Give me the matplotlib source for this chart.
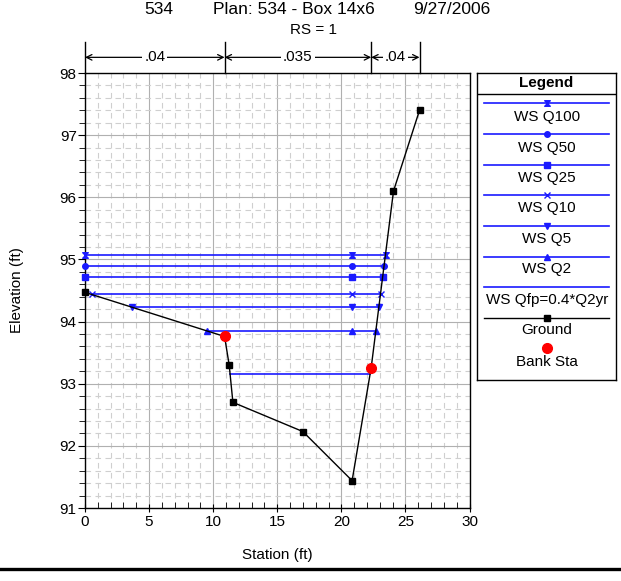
import numpy as np
import matplotlib
matplotlib.use("Agg")
import matplotlib.pyplot as plt
from matplotlib.path import Path
import matplotlib.transforms as mtrans

plt.rcParams['font.family'] = ['Liberation Sans', 'DejaVu Sans']

# ground profile
ground_sta = [0, 10.89, 11.25, 11.54, 17.0, 20.84, 22.33, 24.07, 26.1]
ground_elev = [94.47, 93.76, 93.30, 92.70, 92.23, 91.44, 93.26, 96.10, 97.40]

# bank stations
bank_sta = [10.89, 22.33]
bank_elev = [93.76, 93.26]

# manning n bands
n_breaks = [0, 10.89, 22.33, 26.1]
n_values = [".04", ".035", ".04"]

# water surfaces (left edge, right edge, elevation)
ws_names = ["WS Q100", "WS Q50", "WS Q25", "WS Q10", "WS Q5", "WS Q2", "WS Qfp=0.4*Q2yr"]
ws_elev = [95.07, 94.90, 94.72, 94.44, 94.23, 93.85, 93.16]
ws_left = [0, 0, 0, 0.52, 3.70, 9.50, 11.33]
ws_right = [23.45, 23.34, 23.24, 23.06, 22.93, 22.72, 22.25]
ws_mid = 20.84

hourglass = Path([(-1, 1), (1, 1), (-1, -1), (1, -1), (-1, 1)],
                 [Path.MOVETO, Path.LINETO, Path.LINETO, Path.LINETO, Path.CLOSEPOLY])
ws_markers = [hourglass, "o", "s", "x", "v", "^", None]
ws_msize = [4, 4, 4.5, 4, 4, 4, 0]
blue = "#1a1aff"

fig = plt.figure(figsize=(6.21, 5.81), dpi=100)
ax = fig.add_axes([85 / 621, 1 - 508 / 581, 384.5 / 621, 435 / 581])

ax.set_xlim(0, 30)
ax.set_ylim(91, 98)
ax.set_xticks(np.arange(0, 31, 5))
ax.set_yticks(np.arange(91, 99, 1))
ax.set_xticks(np.arange(0, 31, 1), minor=True)
ax.set_yticks(np.arange(91, 98.01, 0.2), minor=True)
ax.grid(which="minor", color="#cfcfcf", linestyle=(0, (5, 4)), linewidth=0.8)
ax.grid(which="major", color="#b0b0b0", linestyle="-", linewidth=0.8)
ax.set_axisbelow(True)
ax.tick_params(axis="y", which="major", direction="out", length=5, labelsize=11, pad=1)
ax.tick_params(axis="y", which="minor", direction="out", length=4)
ax.tick_params(axis="x", which="major", direction="inout", length=6, labelsize=11, pad=2)
ax.tick_params(axis="x", which="minor", direction="in", length=4)
for s in ax.spines.values():
    s.set_linewidth(1.0)

# water surfaces
for i in range(len(ws_names)):
    if ws_markers[i] is None:
        ax.plot([ws_left[i], ws_right[i]], [ws_elev[i], ws_elev[i]], color=blue, lw=1.2, zorder=3)
    else:
        ax.plot([ws_left[i], ws_mid, ws_right[i]], [ws_elev[i]] * 3, color=blue, lw=1.2,
                marker=ws_markers[i], markersize=ws_msize[i], markeredgewidth=1, zorder=3,
                clip_on=False)

# ground
ax.plot(ground_sta, ground_elev, color="black", lw=1.0, marker="s", markersize=4.5, zorder=4,
        clip_on=False)
ax.plot(bank_sta, bank_elev, linestyle="none", marker="o", color="red", markersize=7, zorder=5)

# n value bands above the plot
trans = mtrans.blended_transform_factory(ax.transData, ax.transAxes)
for b in n_breaks:
    ax.plot([b, b], [1.0, 1.072], color="black", lw=1.0, transform=trans, clip_on=False)
for i in range(len(n_values)):
    ax.annotate("", xy=(n_breaks[i], 1.036), xytext=(n_breaks[i + 1], 1.036),
                xycoords=trans, textcoords=trans,
                arrowprops=dict(arrowstyle="<->,head_length=0.4,head_width=0.2", lw=0.9,
                                color="black", shrinkA=0, shrinkB=0))
    ax.text((n_breaks[i] + n_breaks[i + 1]) / 2, 1.036, n_values[i], transform=trans,
            ha="center", va="center", fontsize=11,
            bbox=dict(facecolor="white", edgecolor="none", pad=1.5))

fig.text(277 / 621, 1 - 555 / 581, "Station (ft)", ha="center", va="center", fontsize=11)
fig.text(17 / 621, 1 - 290 / 581, "Elevation (ft)", ha="center", va="center", fontsize=11,
         rotation=90)

fig.text(159 / 621, 1 - 9 / 581, "534", ha="center", va="center", fontsize=12.5)
fig.text(293.5 / 621, 1 - 9 / 581, "Plan: 534 - Box 14x6", ha="center", va="center", fontsize=12.5)
fig.text(452 / 621, 1 - 9 / 581, "9/27/2006", ha="center", va="center", fontsize=12.5)
fig.text(313 / 621, 1 - 30 / 581, "RS = 1", ha="center", va="center", fontsize=11)

# legend box
lx0, lx1, ly0, ly1 = 477, 616, 72.7, 379.5
lg = fig.add_axes([lx0 / 621, 1 - ly1 / 581, (lx1 - lx0) / 621, (ly1 - ly0) / 581])
lg.set_xlim(lx0, lx1)
lg.set_ylim(ly1, ly0)
lg.set_xticks([])
lg.set_yticks([])
for s in lg.spines.values():
    s.set_linewidth(1.0)
lg.text((lx0 + lx1) / 2, 83, "Legend", ha="center", va="center", fontsize=11, fontweight="bold")
lg.plot([lx0, lx1], [94, 94], color="black", lw=1.0)
line_y = [103.3, 134, 165, 195.3, 226, 256.7, 287.3]
label_y = [117.3, 147.7, 178.3, 208.3, 239.3, 269.3, 300]
for i in range(len(ws_names)):
    lg.plot([484, 608.7], [line_y[i], line_y[i]], color=blue, lw=1.2)
    if ws_markers[i] is not None:
        lg.plot([546.7], [line_y[i]], color=blue, marker=ws_markers[i], markersize=ws_msize[i])
    lg.text(546.7, label_y[i], ws_names[i], ha="center", va="center", fontsize=11)
lg.plot([484, 608.7], [317.7, 317.7], color="black", lw=1.0)
lg.plot([546.7], [317.7], color="black", marker="s", markersize=4.5)
lg.text(546.7, 330, "Ground", ha="center", va="center", fontsize=11)
lg.plot([546.7], [348], color="red", marker="o", markersize=7)
lg.text(546.7, 361.7, "Bank Sta", ha="center", va="center", fontsize=11)

# bottom rule
fig.add_artist(plt.Line2D([0, 1], [1 - 569 / 581, 1 - 569 / 581], color="black", lw=2.4,
                          transform=fig.transFigure))

fig.savefig("out.png", dpi=100)
